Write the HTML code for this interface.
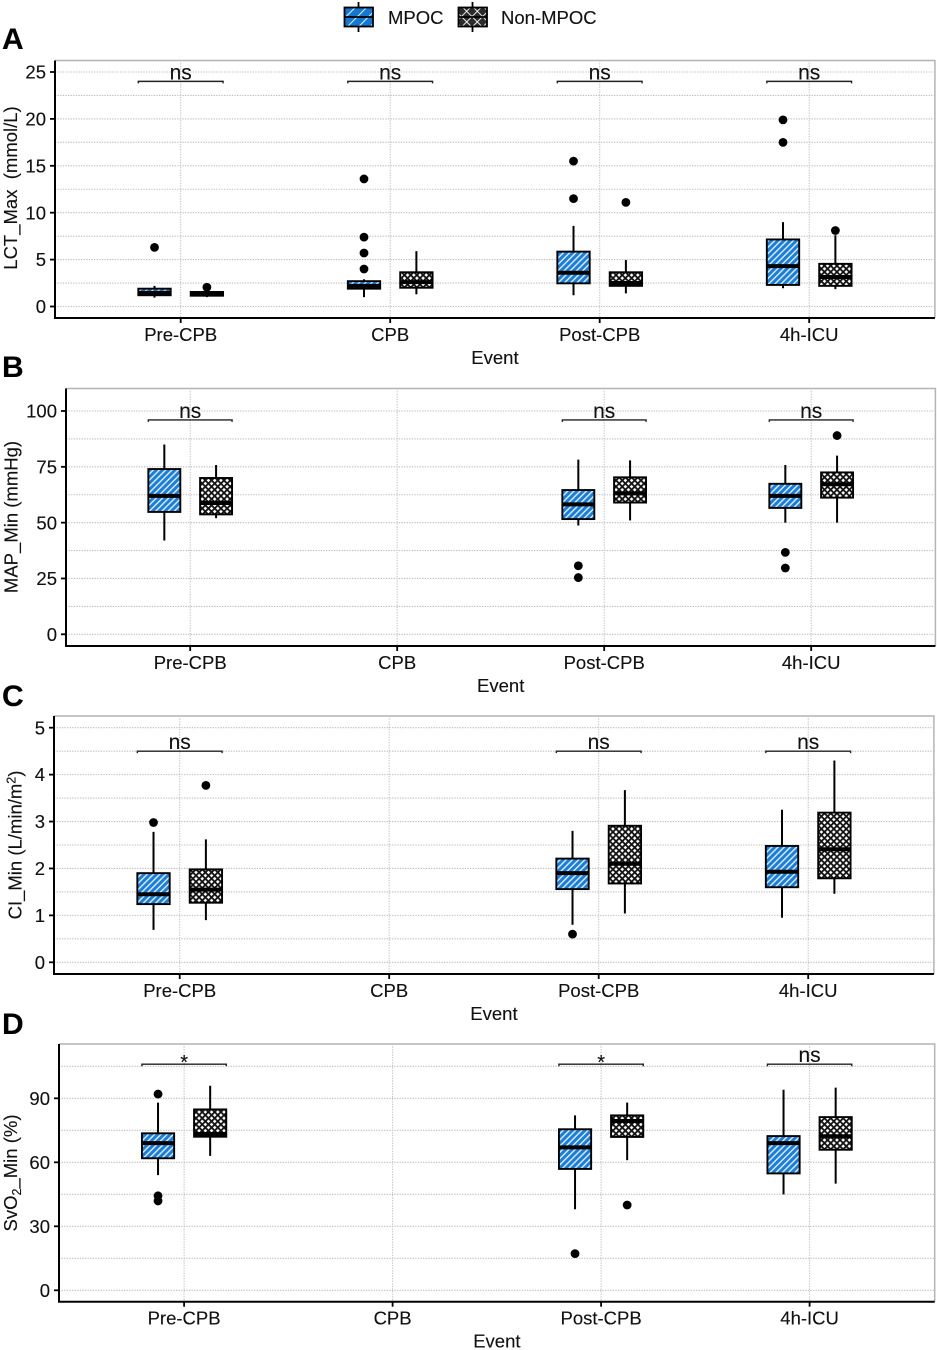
<!DOCTYPE html>
<html lang="en">
<head>
<meta charset="utf-8">
<title>Boxplots of perfusion measures by event, MPOC and Non-MPOC</title>
<style>
html,body{margin:0;padding:0;background:#fff;}
svg{display:block;font-family:"Liberation Sans",sans-serif;}
svg text{stroke:#000;stroke-width:0.12px;}
</style>
</head>
<body>
<svg id="figure" xmlns="http://www.w3.org/2000/svg" width="937" height="1350" viewBox="0 0 937 1350">
  <defs>
    <pattern id="hatch-blue" patternUnits="userSpaceOnUse" width="4.4" height="4.4" patternTransform="rotate(45)">
      <rect width="4.4" height="4.4" fill="#1c7ed6"/>
      <rect x="0" width="1.4" height="4.4" fill="#dcedf9"/>
    </pattern>
    <pattern id="hatch-cross" patternUnits="userSpaceOnUse" width="4.4" height="4.4" patternTransform="rotate(45)">
      <rect width="4.4" height="4.4" fill="#fff"/>
      <rect x="0" width="1.8" height="4.4" fill="#111"/>
      <rect y="0" width="4.4" height="1.8" fill="#111"/>
    </pattern>
    <pattern id="legend-blue" patternUnits="userSpaceOnUse" width="8" height="8" patternTransform="rotate(45)">
      <rect width="8" height="8" fill="#1478d2"/>
      <rect x="0" width="0.9" height="8" fill="#fff"/>
    </pattern>
    <pattern id="legend-cross" patternUnits="userSpaceOnUse" width="7.5" height="7.5" patternTransform="rotate(45)">
      <rect width="7.5" height="7.5" fill="#2b2b2b"/>
      <rect x="0" width="0.9" height="7.5" fill="#fff"/>
      <rect y="0" width="7.5" height="0.9" fill="#fff"/>
    </pattern>
  </defs>

  <g id="legend">
    <g>
      <line x1="358.5" x2="358.5" y1="2" y2="32" stroke="#000" stroke-width="1.8"/>
      <rect x="344.5" y="7.5" width="28.5" height="19" fill="url(#legend-blue)" stroke="#000" stroke-width="1.8"/>
      <line x1="344.5" x2="373" y1="17" y2="17" stroke="#000" stroke-width="1.8"/>
      <text x="388" y="24" font-size="18.5" fill="#111">MPOC</text>
    </g>
    <g>
      <line x1="472.5" x2="472.5" y1="2" y2="32" stroke="#000" stroke-width="1.8"/>
      <rect x="458.5" y="7.5" width="28.5" height="19" fill="url(#legend-cross)" stroke="#000" stroke-width="1.8"/>
      <line x1="458.5" x2="487" y1="17" y2="17" stroke="#000" stroke-width="1.8"/>
      <text x="501" y="24" font-size="18.5" fill="#111">Non-MPOC</text>
    </g>
  </g>
</svg>

<script>
const categories = ['Pre-CPB', 'CPB', 'Post-CPB', '4h-ICU'];

// Each box: [lower whisker, Q1, median, Q3, upper whisker]
const aTicks = [0, 5, 10, 15, 20, 25];
const aSignificance = ['ns', 'ns', 'ns', 'ns'];
const aBracketLevel = [24];
const aMpoc = [[0.95, 1.2, 1.45, 1.9, 2.2], [1.0, 1.9, 2.2, 2.7, 2.9], [1.2, 2.47, 3.6, 5.85, 8.6], [1.95, 2.3, 4.3, 7.15, 9.0]];
const aNon = [[1.0, 1.15, 1.35, 1.55, 1.65], [1.3, 2.0, 2.6, 3.65, 5.9], [1.4, 2.2, 2.5, 3.65, 4.95], [1.85, 2.2, 3.15, 4.55, 7.6]];
const aMpocOutliers = [[6.3], [13.6, 7.4, 5.7, 4.0], [15.5, 11.5], [19.9, 17.5]];
const aNonOutliers = [[2.05], [], [11.1], [8.1]];

const bTicks = [0, 25, 50, 75, 100];
const bSignificance = ['ns', null, 'ns', 'ns'];
const bBracketLevel = [96];
const bMpoc = [[42, 54.8, 62, 74, 85], null, [48.7, 51.6, 58.2, 64.6, 78.2], [50, 56.6, 62, 67.4, 75.8]];
const bNon = [[52, 53.7, 58.8, 70, 75.8], null, [51, 59, 63.1, 70.3, 77.9], [50, 61.2, 67.2, 72.5, 80]];
const bMpocOutliers = [[], [], [30.7, 25.4], [36.7, 29.7]];
const bNonOutliers = [[], [], [], [89]];

const cTicks = [0, 1, 2, 3, 4, 5];
const cSignificance = ['ns', null, 'ns', 'ns'];
const cBracketLevel = [4.5];
const cMpoc = [[0.69, 1.24, 1.45, 1.9, 2.78], null, [0.8, 1.56, 1.9, 2.21, 2.8], [0.95, 1.6, 1.93, 2.48, 3.25]];
const cNon = [[0.9, 1.27, 1.55, 1.98, 2.62], null, [1.04, 1.68, 2.1, 2.91, 3.67], [1.46, 1.79, 2.41, 3.19, 4.3]];
const cMpocOutliers = [[2.98], [], [0.6], []];
const cNonOutliers = [[3.77], [], [], []];

const dTicks = [0, 30, 60, 90];
const dSignificance = ['*', null, '*', 'ns'];
const dBracketLevel = [106];
const dMpoc = [[54, 61.9, 69, 73.6, 88], null, [38, 56.9, 67, 75.5, 82], [45, 54.8, 69, 72.3, 94]];
const dNon = [[63, 72, 73.3, 84.8, 95.9], null, [61, 71.9, 79.4, 82, 88], [50, 65.9, 72.2, 81.2, 95]];
const dMpocOutliers = [[92, 44.3, 41.9], [], [17.2], []];
const dNonOutliers = [[], [], [40], []];

const NS = 'http://www.w3.org/2000/svg';
const svg = document.getElementById('figure');

function make(parent, tag, props, text) {
  const node = document.createElementNS(NS, tag);
  for (const k in props) node.setAttribute(k, props[k]);
  if (text !== undefined) node.textContent = text;
  parent.appendChild(node);
  return node;
}

function drawPanel(p) {
  const group = make(svg, 'g', {});
  
  

  const tickStep = p.ticks[1] - p.ticks[0];
  const yScale = v => p.yZero - (v - p.ticks[0]) * p.yUnit;
  const xScale = i => p.left + p.band * (0.6 + i);
  const right = xScale(categories.length - 1) + p.band * 0.6;
  const offset = p.band * 0.125;
  const boxWidth = p.band * 0.1545;

  const letter = make(group, 'text', {x: 2, y: p.letterY, 'font-size': 30, 'font-weight': 'bold', fill: '#000'}, p.id.toUpperCase());
  
  

  const border = make(group, 'path', {d: `M${p.left} ${p.top}H${right}V${p.bottom}`, fill: 'none', stroke: '#b4b4b4', 'stroke-width': 1.5});
  
  

  const minorTicks = [];
  p.ticks.forEach(t => minorTicks.push(t + tickStep / 2));
  minorTicks.filter(t => yScale(t) > p.top + 1).forEach(t => {
    const line = make(group, 'line', {x1: p.left, x2: right, y1: yScale(t), y2: yScale(t), stroke: '#bdbdbd', 'stroke-width': 1.1, 'stroke-dasharray': '1.3 1.3'});
    
    
  });
  p.ticks.forEach(t => {
    const y = yScale(t);
    const line = make(group, 'line', {x1: p.left, x2: right, y1: y, y2: y, stroke: '#bdbdbd', 'stroke-width': 1.1, 'stroke-dasharray': '1.3 1.3'});
    
    
    const tick = make(group, 'line', {x1: p.left - 5, x2: p.left, y1: y, y2: y, stroke: '#000', 'stroke-width': 1.8});
    
    
    const label = make(group, 'text', {x: p.left - 9, y: y + 6.6, 'text-anchor': 'end', 'font-size': 18.5, fill: '#111'}, String(t));
    
    
  });

  categories.forEach((name, i) => {
    const x = xScale(i);
    const line = make(group, 'line', {x1: x, x2: x, y1: p.top, y2: p.bottom, stroke: '#c4c4c4', 'stroke-width': 1.1, 'stroke-dasharray': '1.3 1.3'});
    
    
    const tick = make(group, 'line', {x1: x, x2: x, y1: p.bottom, y2: p.bottom + 5, stroke: '#000', 'stroke-width': 1.8});
    
    
    const label = make(group, 'text', {x: x, y: p.bottom + 23, 'text-anchor': 'middle', 'font-size': 18.5, fill: '#111'}, name);
    
    
  });

  const series = [
    {key: 'mpoc', boxes: p.mpoc, outliers: p.mpocOutliers, fill: 'url(#hatch-blue)', shift: -offset},
    {key: 'non-mpoc', boxes: p.non, outliers: p.nonOutliers, fill: 'url(#hatch-cross)', shift: offset}
  ];
  series.forEach(s => {
    categories.forEach((name, i) => {
      const cx = xScale(i) + s.shift;
      const box = s.boxes[i];
      if (box) {
        const whisker = make(group, 'line', {x1: cx, x2: cx, y1: yScale(box[0]), y2: yScale(box[4]), stroke: '#000', 'stroke-width': 2});
        
        
        const rect = make(group, 'rect', {x: cx - boxWidth / 2, y: yScale(box[3]), width: boxWidth, height: yScale(box[1]) - yScale(box[3]), fill: s.fill, stroke: '#000', 'stroke-width': 1.9});
        
        
        const median = make(group, 'line', {x1: cx - boxWidth / 2, x2: cx + boxWidth / 2, y1: yScale(box[2]), y2: yScale(box[2]), stroke: '#000', 'stroke-width': 4});
        
        
      }
      s.outliers[i].forEach(v => {
        const dot = make(group, 'circle', {cx: cx, cy: yScale(v), r: 4.4, fill: '#000'});
        
        
      });
    });
  });

  p.significance.forEach((sig, i) => {
    if (!sig) return;
    const x = xScale(i);
    const y = yScale(p.bracketLevel[0]);
    const half = offset + boxWidth / 2;
    const bracket = make(group, 'path', {d: `M${x - half} ${y + 2}V${y}H${x + half}V${y + 2}`, fill: 'none', stroke: '#222', 'stroke-width': 1.4});
    
    
    const isStar = sig === '*';
    const label = make(group, 'text', {x: x, y: isStar ? y + 5 : y - 2, 'text-anchor': 'middle', 'font-size': isStar ? 20 : 21, fill: '#111'}, sig);
    
    
  });

  const axes = make(group, 'path', {d: `M${p.left} ${p.top}V${p.bottom}H${right}`, fill: 'none', stroke: '#000', 'stroke-width': 2});
  
  

  const xTitle = make(group, 'text', {x: (p.left + right) / 2, y: p.bottom + 46, 'text-anchor': 'middle', 'font-size': 18.5, fill: '#111'}, 'Event');
  
  

  const yTitle = make(group, 'text', {transform: `translate(${p.titleX} ${p.titleY}) rotate(-90)`, 'text-anchor': 'middle', 'font-size': 18.5, fill: '#111'});
  
  
  p.title.forEach(part => {
    const span = make(yTitle, 'tspan', part.shift ? {dy: part.shift, 'font-size': 12.5} : {dy: part.back || 0}, part.text);
    span.setAttribute('xml:space', 'preserve');
  });
}

drawPanel({id: 'a', left: 55, top: 60.5, bottom: 318, band: 209.5, yZero: 306.5, yUnit: 9.38, letterY: 49,
  ticks: aTicks, significance: aSignificance, bracketLevel: aBracketLevel,
  mpoc: aMpoc, non: aNon, mpocOutliers: aMpocOutliers, nonOutliers: aNonOutliers,
  titleX: 17, titleY: 188, title: [{text: 'LCT_Max\u00a0\u00a0(mmol/L)'}]});

drawPanel({id: 'b', left: 66, top: 388.5, bottom: 646, band: 207, yZero: 634.3, yUnit: 2.233, letterY: 377,
  ticks: bTicks, significance: bSignificance, bracketLevel: bBracketLevel,
  mpoc: bMpoc, non: bNon, mpocOutliers: bMpocOutliers, nonOutliers: bNonOutliers,
  titleX: 17.5, titleY: 517, title: [{text: 'MAP_Min (mmHg)'}]});

drawPanel({id: 'c', left: 54, top: 716, bottom: 974, band: 209.5, yZero: 962.3, yUnit: 46.92, letterY: 706,
  ticks: cTicks, significance: cSignificance, bracketLevel: cBracketLevel,
  mpoc: cMpoc, non: cNon, mpocOutliers: cMpocOutliers, nonOutliers: cNonOutliers,
  titleX: 21.5, titleY: 845, title: [{text: 'CI_Min (L/min/m'}, {text: '2', shift: -6}, {text: ')', back: 6}]});

drawPanel({id: 'd', left: 59, top: 1044, bottom: 1301.7, band: 208.5, yZero: 1290.3, yUnit: 2.133, letterY: 1034,
  ticks: dTicks, significance: dSignificance, bracketLevel: dBracketLevel,
  mpoc: dMpoc, non: dNon, mpocOutliers: dMpocOutliers, nonOutliers: dNonOutliers,
  titleX: 17, titleY: 1173, title: [{text: 'SvO'}, {text: '2', shift: 4}, {text: '_Min (%)', back: -4}]});
</script>
</body>
</html>
